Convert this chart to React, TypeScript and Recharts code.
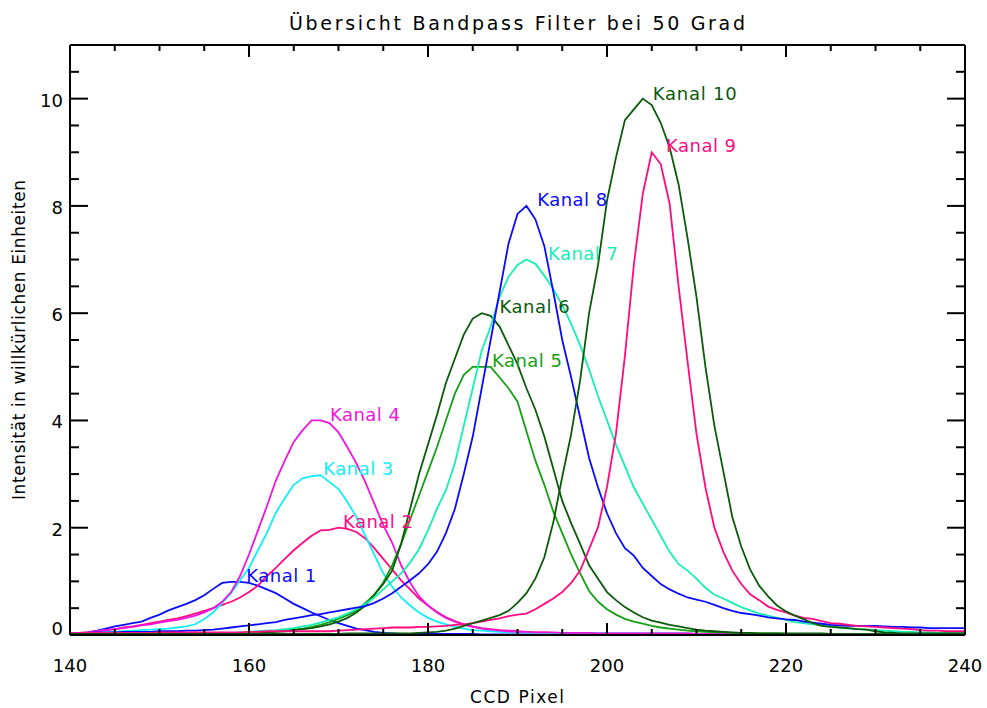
import React from 'react';
import { LineChart, Line, XAxis, YAxis, ReferenceDot, Label } from 'recharts';

// CCD pixel positions (x axis)
const PIXELS = [
  140, 141, 142, 143, 144, 145, 146, 147, 148, 149,
  150, 151, 152, 153, 154, 155, 156, 157, 158, 159,
  160, 161, 162, 163, 164, 165, 166, 167, 168, 169,
  170, 171, 172, 173, 174, 175, 176, 177, 178, 179,
  180, 181, 182, 183, 184, 185, 186, 187, 188, 189,
  190, 191, 192, 193, 194, 195, 196, 197, 198, 199,
  200, 201, 202, 203, 204, 205, 206, 207, 208, 209,
  210, 211, 212, 213, 214, 215, 216, 217, 218, 219,
  220, 221, 222, 223, 224, 225, 226, 227, 228, 229,
  230, 231, 232, 233, 234, 235, 236, 237, 238, 239, 240,
];

const KANAL_1 = [
  0.03, 0.03, 0.05, 0.08, 0.12, 0.16, 0.19, 0.22, 0.25, 0.32,
  0.38, 0.46, 0.52, 0.58, 0.65, 0.74, 0.86, 0.97, 0.99, 0.99,
  0.97, 0.92, 0.85, 0.78, 0.68, 0.58, 0.5, 0.42, 0.35, 0.28,
  0.22, 0.17, 0.12, 0.09, 0.06, 0.04, 0.03, 0.02, 0.02, 0.02,
  0.02, 0.02, 0.02, 0.02, 0.02, 0.02, 0.01, 0.01, 0.01, 0.01,
  0.01, 0.01, 0.01, 0.01, 0.01, 0.01, 0.01, 0.01, 0.01, 0.01,
  0, 0, 0, 0, 0, 0, 0, 0, 0, 0,
  0, 0, 0, 0, 0, 0, 0, 0, 0, 0,
  0, 0, 0, 0, 0, 0, 0, 0, 0, 0,
  0, 0, 0, 0, 0, 0, 0, 0, 0, 0, 0,
];

const KANAL_2 = [
  0.03, 0.04, 0.05, 0.07, 0.09, 0.11, 0.14, 0.16, 0.19, 0.22,
  0.25, 0.28, 0.31, 0.35, 0.4, 0.45, 0.5, 0.56, 0.62, 0.7,
  0.8, 0.92, 1.1, 1.25, 1.42, 1.58, 1.72, 1.85, 1.95, 1.96,
  2.0, 1.98, 1.92, 1.8, 1.62, 1.42, 1.22, 1.02, 0.85, 0.68,
  0.55, 0.43, 0.33, 0.26, 0.2, 0.16, 0.13, 0.11, 0.09, 0.08,
  0.07, 0.06, 0.05, 0.05, 0.04, 0.04, 0.04, 0.04, 0.03, 0.03,
  0.03, 0.03, 0.03, 0.03, 0.03, 0.03, 0.03, 0.03, 0.03, 0.03,
  0.02, 0.02, 0.02, 0.02, 0.02, 0.02, 0.02, 0.02, 0.02, 0.02,
  0.02, 0.02, 0.02, 0.02, 0.02, 0.02, 0.02, 0.02, 0.02, 0.02,
  0.02, 0.02, 0.02, 0.02, 0.02, 0.02, 0.02, 0.02, 0.02, 0.02, 0.02,
];

const KANAL_3 = [
  0.03, 0.03, 0.04, 0.04, 0.05, 0.06, 0.07, 0.08, 0.09, 0.1,
  0.11, 0.12, 0.14, 0.16, 0.2, 0.3, 0.42, 0.6, 0.78, 1.02,
  1.25, 1.58, 1.9, 2.28, 2.55, 2.8, 2.92, 2.96, 2.98, 2.85,
  2.72, 2.48, 2.2, 1.85, 1.5, 1.15, 0.9, 0.7, 0.55, 0.42,
  0.32, 0.25, 0.2, 0.15, 0.12, 0.09, 0.08, 0.07, 0.06, 0.05,
  0.05, 0.05, 0.04, 0.04, 0.04, 0.04, 0.04, 0.04, 0.04, 0.04,
  0.03, 0.03, 0.03, 0.03, 0.03, 0.03, 0.03, 0.03, 0.03, 0.03,
  0.02, 0.02, 0.02, 0.02, 0.02, 0.02, 0.02, 0.02, 0.02, 0.02,
  0.01, 0.01, 0.01, 0.01, 0.01, 0.01, 0.01, 0.01, 0.01, 0.01,
  0.01, 0.01, 0.01, 0.01, 0.01, 0.01, 0.01, 0.01, 0.01, 0.01, 0.01,
];

const KANAL_4 = [
  0.03, 0.04, 0.05, 0.07, 0.09, 0.11, 0.13, 0.15, 0.18, 0.2,
  0.23, 0.26, 0.28, 0.32, 0.36, 0.42, 0.5, 0.62, 0.8, 1.1,
  1.5, 1.95, 2.4, 2.88, 3.25, 3.6, 3.82, 4.0, 4.0, 3.95,
  3.78, 3.5, 3.2, 2.85, 2.45, 2.05, 1.72, 1.3, 0.98, 0.72,
  0.55, 0.42, 0.32, 0.25, 0.19, 0.15, 0.12, 0.1, 0.08, 0.07,
  0.06, 0.06, 0.05, 0.05, 0.05, 0.04, 0.04, 0.04, 0.04, 0.03,
  0.03, 0.03, 0.03, 0.03, 0.03, 0.03, 0.03, 0.03, 0.03, 0.03,
  0.02, 0.02, 0.02, 0.02, 0.02, 0.02, 0.02, 0.02, 0.02, 0.02,
  0.01, 0.01, 0.01, 0.01, 0.01, 0.01, 0.01, 0.01, 0.01, 0.01,
  0.01, 0.01, 0.01, 0.01, 0.01, 0.01, 0.01, 0.01, 0.01, 0.01, 0.01,
];

const KANAL_5 = [
  0.01, 0.01, 0.01, 0.01, 0.01, 0.01, 0.01, 0.01, 0.01, 0.01,
  0.01, 0.01, 0.01, 0.01, 0.01, 0.01, 0.02, 0.02, 0.03, 0.03,
  0.04, 0.05, 0.06, 0.07, 0.08, 0.1, 0.12, 0.15, 0.19, 0.24,
  0.3, 0.37, 0.45, 0.6, 0.75, 0.98, 1.3, 1.7, 2.15, 2.6,
  3.05, 3.5, 4.0, 4.5, 4.85, 5.0, 5.0, 5.0, 4.8, 4.6,
  4.35, 3.8, 3.25, 2.8, 2.3, 1.9, 1.5, 1.15, 0.82, 0.62,
  0.48, 0.38, 0.3, 0.25, 0.21, 0.17, 0.14, 0.12, 0.1, 0.08,
  0.07, 0.06, 0.05, 0.05, 0.04, 0.04, 0.03, 0.03, 0.03, 0.03,
  0.02, 0.02, 0.02, 0.02, 0.02, 0.02, 0.02, 0.02, 0.02, 0.02,
  0.01, 0.01, 0.01, 0.01, 0.01, 0.01, 0.01, 0.01, 0.01, 0.01, 0.01,
];

const KANAL_6 = [
  0.01, 0.01, 0.01, 0.01, 0.01, 0.01, 0.01, 0.01, 0.01, 0.01,
  0.01, 0.01, 0.01, 0.02, 0.02, 0.02, 0.02, 0.03, 0.03, 0.03,
  0.04, 0.04, 0.05, 0.06, 0.07, 0.09, 0.11, 0.13, 0.16, 0.2,
  0.25, 0.32, 0.42, 0.55, 0.75, 0.95, 1.2, 1.7, 2.35, 3.0,
  3.55, 4.1, 4.7, 5.15, 5.6, 5.9, 6.0, 5.95, 5.75, 5.4,
  5.05, 4.6, 4.2, 3.7, 3.1, 2.5, 2.08, 1.7, 1.3, 1.05,
  0.8, 0.65, 0.52, 0.42, 0.33, 0.27, 0.23, 0.19, 0.16, 0.13,
  0.1, 0.08, 0.07, 0.06, 0.05, 0.04, 0.04, 0.03, 0.03, 0.03,
  0.03, 0.03, 0.03, 0.03, 0.03, 0.02, 0.02, 0.02, 0.02, 0.02,
  0.02, 0.02, 0.02, 0.02, 0.02, 0.02, 0.02, 0.02, 0.02, 0.02, 0.02,
];

const KANAL_7 = [
  0.01, 0.01, 0.01, 0.01, 0.01, 0.01, 0.01, 0.01, 0.01, 0.01,
  0.01, 0.02, 0.02, 0.02, 0.02, 0.02, 0.03, 0.03, 0.04, 0.05,
  0.06, 0.07, 0.08, 0.09, 0.11, 0.13, 0.16, 0.19, 0.23, 0.28,
  0.33, 0.4, 0.48, 0.58, 0.7, 0.85, 1.0, 1.15, 1.35, 1.6,
  1.95, 2.35, 2.7, 3.2, 3.9, 4.6, 5.3, 5.75, 6.3, 6.68,
  6.9, 7.0, 6.92, 6.7, 6.45, 6.15, 5.8, 5.4, 4.95, 4.45,
  4.0, 3.55, 3.15, 2.75, 2.45, 2.15, 1.85, 1.55, 1.32, 1.2,
  1.05, 0.88, 0.75, 0.68, 0.6, 0.52, 0.46, 0.4, 0.36, 0.32,
  0.28, 0.24, 0.22, 0.2, 0.18, 0.16, 0.14, 0.12, 0.11, 0.1,
  0.09, 0.08, 0.07, 0.06, 0.06, 0.05, 0.05, 0.04, 0.04, 0.04, 0.04,
];

const KANAL_8 = [
  0.02, 0.02, 0.04, 0.05, 0.05, 0.05, 0.06, 0.06, 0.06, 0.06,
  0.07, 0.07, 0.07, 0.08, 0.08, 0.09, 0.1, 0.12, 0.14, 0.16,
  0.18, 0.2, 0.22, 0.24, 0.28, 0.31, 0.34, 0.37, 0.39, 0.42,
  0.45, 0.48, 0.51, 0.54, 0.6, 0.68, 0.78, 0.9, 1.02, 1.15,
  1.32, 1.55, 1.9, 2.35, 3.0, 3.7, 4.6, 5.5, 6.4, 7.3,
  7.85, 8.0, 7.75, 7.25, 6.4, 5.5, 4.8, 4.05, 3.3, 2.75,
  2.27, 1.9, 1.62, 1.48, 1.25, 1.1, 0.95, 0.85, 0.77, 0.7,
  0.66, 0.62, 0.56, 0.5, 0.45, 0.41, 0.39, 0.36, 0.33, 0.31,
  0.29, 0.28, 0.25, 0.23, 0.21, 0.19, 0.18, 0.17, 0.17, 0.17,
  0.17, 0.16, 0.15, 0.15, 0.14, 0.14, 0.13, 0.13, 0.13, 0.13, 0.13,
];

const KANAL_9 = [
  0.03, 0.04, 0.04, 0.04, 0.04, 0.04, 0.04, 0.04, 0.04, 0.04,
  0.05, 0.05, 0.05, 0.05, 0.05, 0.05, 0.05, 0.05, 0.05, 0.05,
  0.06, 0.06, 0.07, 0.07, 0.07, 0.07, 0.07, 0.07, 0.07, 0.07,
  0.08, 0.09, 0.1, 0.11, 0.12, 0.13, 0.14, 0.14, 0.14, 0.15,
  0.15, 0.16, 0.17, 0.19, 0.2, 0.22, 0.25, 0.28, 0.31, 0.35,
  0.38, 0.4, 0.48, 0.58, 0.68, 0.8, 0.97, 1.2, 1.6, 2.01,
  2.76, 3.75, 5.2, 6.9, 8.23, 9.0, 8.78, 8.04, 6.5, 5.1,
  3.75, 2.75, 2.0, 1.55, 1.2, 0.95, 0.76, 0.65, 0.53, 0.47,
  0.42, 0.36, 0.32, 0.3, 0.26, 0.22, 0.21, 0.19, 0.17, 0.16,
  0.15, 0.14, 0.13, 0.12, 0.11, 0.09, 0.08, 0.08, 0.07, 0.07, 0.07,
];

const KANAL_10 = [
  0.02, 0.02, 0.02, 0.02, 0.02, 0.02, 0.02, 0.02, 0.02, 0.02,
  0.02, 0.02, 0.02, 0.02, 0.02, 0.02, 0.02, 0.02, 0.02, 0.02,
  0.02, 0.02, 0.02, 0.02, 0.02, 0.02, 0.02, 0.02, 0.02, 0.02,
  0.02, 0.03, 0.03, 0.03, 0.03, 0.03, 0.03, 0.03, 0.03, 0.04,
  0.05, 0.06, 0.08, 0.12, 0.17, 0.22, 0.27, 0.32, 0.37, 0.45,
  0.6, 0.78, 1.05, 1.45, 2.1, 2.95, 3.75, 4.75, 6.0, 6.9,
  8.1, 8.9, 9.6, 9.8, 10.0, 9.88, 9.55, 9.09, 8.4, 7.4,
  6.3, 5.0, 3.9, 3.05, 2.2, 1.65, 1.22, 0.92, 0.72, 0.55,
  0.44, 0.36, 0.29, 0.22, 0.17, 0.15, 0.14, 0.13, 0.11, 0.1,
  0.07, 0.05, 0.04, 0.03, 0.03, 0.03, 0.03, 0.03, 0.03, 0.03, 0.03,
];

const SERIES_NAMES = ['Kanal 1', 'Kanal 2', 'Kanal 3', 'Kanal 4', 'Kanal 5', 'Kanal 6', 'Kanal 7', 'Kanal 8', 'Kanal 9', 'Kanal 10'];
const SERIES_VALUES = [KANAL_1, KANAL_2, KANAL_3, KANAL_4, KANAL_5, KANAL_6, KANAL_7, KANAL_8, KANAL_9, KANAL_10];
const SERIES_COLORS = ['#0a0aff', '#ff0a82', '#10eefa', '#f014dc', '#14a014', '#0a5a0a', '#14f0b4', '#0a0aff', '#ff0a82', '#0a5a0a'];

// label anchors (data coordinates) for the channel names
const LABEL_PIXEL = [159.7, 170.5, 168.3, 169.05, 187.15, 188.0, 193.4, 192.2, 206.6, 205.1];
const LABEL_VALUE = [0.99, 1.99, 2.98, 3.99, 4.99, 6.0, 7.0, 7.99, 9.0, 9.98];

const X_TICKS = [140, 145, 150, 155, 160, 165, 170, 175, 180, 185, 190, 195, 200, 205, 210, 215, 220, 225, 230, 235, 240];
const Y_TICKS = [0, 0.5, 1, 1.5, 2, 2.5, 3, 3.5, 4, 4.5, 5, 5.5, 6, 6.5, 7, 7.5, 8, 8.5, 9, 9.5, 10, 10.5];

const TITLE = 'Übersicht Bandpass Filter bei 50 Grad';
const X_TITLE = 'CCD Pixel';
const Y_TITLE = 'Intensität in willkürlichen Einheiten';

const FONT = '"DejaVu Sans", sans-serif';

const rows = PIXELS.map((p, i) => {
  const r: any = { p };
  SERIES_VALUES.forEach((arr, k) => {
    r['k' + (k + 1)] = arr[i];
  });
  return r;
});

const BottomTick = (props: any) => {
  const { x, y, payload } = props;
  const v = payload.value;
  const major = v % 20 === 0;
  return (
    <g>
      <line x1={x} y1={y} x2={x} y2={y - (major ? 12 : 6)} stroke="#000" strokeWidth={2} />
      {major && (
        <text x={x} y={y + 37} textAnchor="middle" fontSize={18} fontFamily={FONT} fill="#000">
          {v}
        </text>
      )}
    </g>
  );
};

const TopTick = (props: any) => {
  const { x, y, payload } = props;
  const major = payload.value % 20 === 0;
  return <line x1={x} y1={y} x2={x} y2={y + (major ? 12 : 6)} stroke="#000" strokeWidth={2} />;
};

const LeftTick = (props: any) => {
  const { x, y, payload } = props;
  const v = payload.value;
  const major = v % 2 === 0;
  return (
    <g>
      <line x1={x} y1={y} x2={x + (major ? 18 : 9)} y2={y} stroke="#000" strokeWidth={2} />
      {major && (
        <text x={x - 7} y={v === 0 ? y : y + 8} textAnchor="end" fontSize={18} fontFamily={FONT} fill="#000">
          {v}
        </text>
      )}
    </g>
  );
};

const RightTick = (props: any) => {
  const { x, y, payload } = props;
  const major = payload.value % 2 === 0;
  return <line x1={x} y1={y} x2={x - (major ? 18 : 9)} y2={y} stroke="#000" strokeWidth={2} />;
};

const makeLabelShape = (text: string, color: string) => (props: any) => {
  const { cx, cy } = props;
  return (
    <text
      x={cx}
      y={cy}
      fontSize={18}
      fontFamily={FONT}
      fill={color}
      textLength={text.length > 7 ? 84 : 70}
      lengthAdjust="spacing"
    >
      {text}
    </text>
  );
};

const axisLine = { stroke: '#000', strokeWidth: 2 };

export default function App() {
  return (
    <div style={{ position: 'absolute', left: 0, top: 0, width: 987, height: 708, background: '#fff' }}>
      <LineChart width={987} height={708} data={rows} margin={{ top: 44, right: 21, bottom: 0, left: 10 }}>
        <XAxis
          xAxisId="bottom"
          dataKey="p"
          type="number"
          domain={[140, 240]}
          ticks={X_TICKS}
          interval={0}
          allowDataOverflow
          height={73}
          tickSize={0}
          tickMargin={0}
          tickLine={false}
          axisLine={axisLine}
          tick={BottomTick}
        >
          <Label
            content={() => (
              <text x={517} y={703} textAnchor="middle" fontSize={17} fontFamily={FONT} fill="#000" textLength={94} lengthAdjust="spacing">
                {X_TITLE}
              </text>
            )}
          />
          <Label
            content={() => (
              <text x={517} y={30} textAnchor="middle" fontSize={19} fontFamily={FONT} fill="#000" textLength={456} lengthAdjust="spacing">
                {TITLE}
              </text>
            )}
          />
        </XAxis>
        <XAxis
          xAxisId="top"
          orientation="top"
          dataKey="p"
          type="number"
          domain={[140, 240]}
          ticks={X_TICKS}
          interval={0}
          allowDataOverflow
          height={1}
          tickSize={0}
          tickMargin={0}
          tickLine={false}
          axisLine={axisLine}
          tick={TopTick}
        />
        <YAxis
          yAxisId="left"
          type="number"
          domain={[0, 11]}
          ticks={Y_TICKS}
          interval={0}
          allowDataOverflow
          width={60}
          tickSize={0}
          tickMargin={0}
          tickLine={false}
          axisLine={axisLine}
          tick={LeftTick}
        >
          <Label
            content={() => (
              <text
                x={0}
                y={0}
                transform="translate(25, 340) rotate(-90)"
                textAnchor="middle"
                fontSize={17}
                fontFamily={FONT}
                fill="#000"
                textLength={320}
                lengthAdjust="spacing"
              >
                {Y_TITLE}
              </text>
            )}
          />
        </YAxis>
        <YAxis
          yAxisId="right"
          orientation="right"
          type="number"
          domain={[0, 11]}
          ticks={Y_TICKS}
          interval={0}
          allowDataOverflow
          width={1}
          tickSize={0}
          tickMargin={0}
          tickLine={false}
          axisLine={axisLine}
          tick={RightTick}
        />
        {SERIES_NAMES.map((name, k) => (
          <Line
            key={name}
            xAxisId="bottom"
            yAxisId="left"
            dataKey={'k' + (k + 1)}
            name={name}
            type="linear"
            stroke={SERIES_COLORS[k]}
            strokeWidth={1.8}
            dot={false}
            activeDot={false}
            isAnimationActive={false}
          />
        ))}
        {SERIES_NAMES.map((name, k) => (
          <ReferenceDot
            key={'lbl' + name}
            xAxisId="bottom"
            yAxisId="left"
            x={LABEL_PIXEL[k]}
            y={LABEL_VALUE[k]}
            r={0}
            ifOverflow="visible"
            shape={makeLabelShape(name, SERIES_COLORS[k])}
          />
        ))}
      </LineChart>
    </div>
  );
}
